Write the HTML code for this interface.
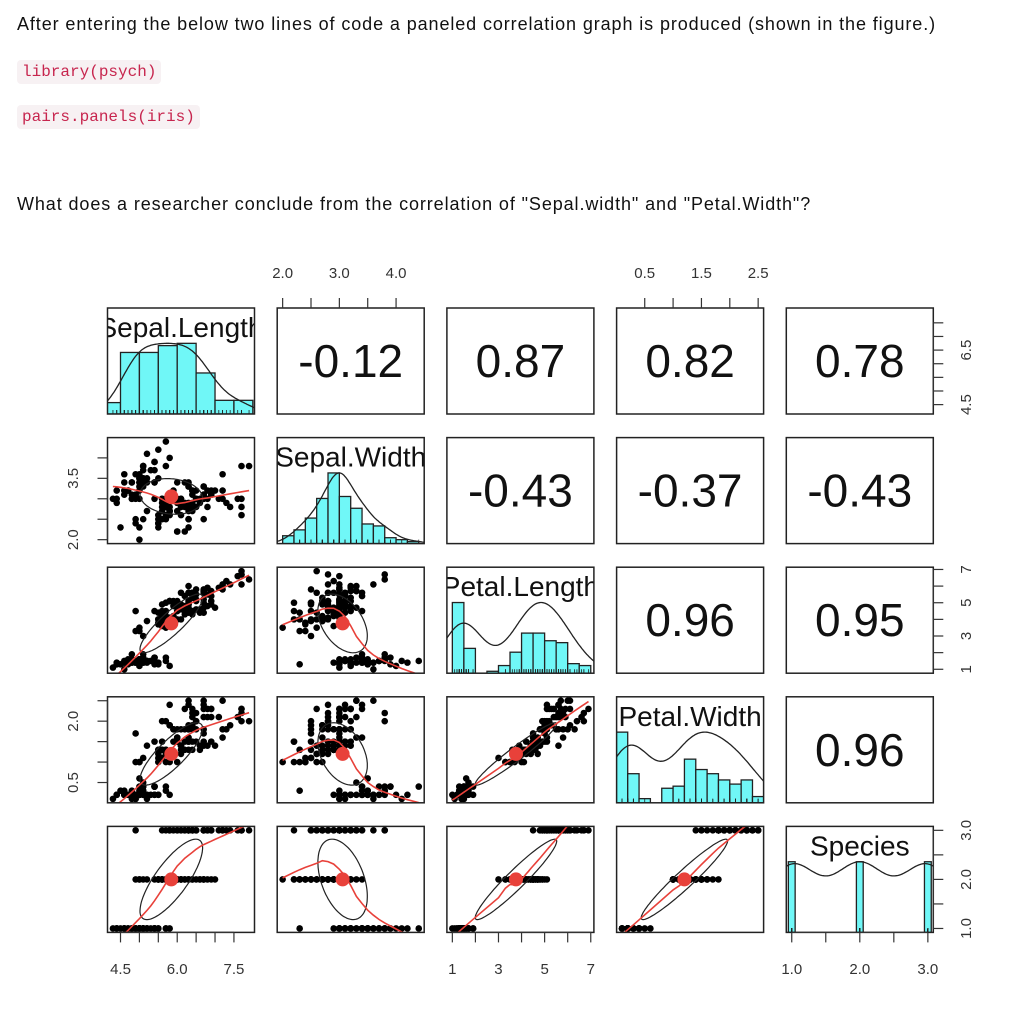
<!DOCTYPE html>
<html><head><meta charset="utf-8">
<style>
body{margin:0;background:#fff;width:1013px;height:1024px;position:relative;overflow:hidden;font-family:"Liberation Sans",Arial,sans-serif;}
.t{position:absolute;font-size:18px;letter-spacing:0.9px;color:#111;white-space:nowrap}
.code{position:absolute;background:#f7f1f3;color:#c7254e;font-family:"Liberation Mono",monospace;font-size:16px;border-radius:4px;padding:0 5px;height:24px;line-height:24px}
svg{position:absolute;left:0;top:0}
</style></head><body>
<div class="t" style="left:17px;top:14px">After entering the below two lines of code a paneled correlation graph is produced (shown in the figure.)</div>
<div class="code" style="left:17px;top:60px">library(psych)</div>
<div class="code" style="left:17px;top:105px">pairs.panels(iris)</div>
<div class="t" style="left:17px;top:194px">What does a researcher conclude from the correlation of "Sepal.width" and "Petal.Width"?</div>
<svg id="chart" width="1013" height="1024"></svg>
<script>
const varNames=["Sepal.Length","Sepal.Width","Petal.Length","Petal.Width","Species"];
const irisRaw="5.1,3.5,1.4,0.2;4.9,3.0,1.4,0.2;4.7,3.2,1.3,0.2;4.6,3.1,1.5,0.2;5.0,3.6,1.4,0.2;5.4,3.9,1.7,0.4;4.6,3.4,1.4,0.3;5.0,3.4,1.5,0.2;4.4,2.9,1.4,0.2;4.9,3.1,1.5,0.1;5.4,3.7,1.5,0.2;4.8,3.4,1.6,0.2;4.8,3.0,1.4,0.1;4.3,3.0,1.1,0.1;5.8,4.0,1.2,0.2;5.7,4.4,1.5,0.4;5.4,3.9,1.3,0.4;5.1,3.5,1.4,0.3;5.7,3.8,1.7,0.3;5.1,3.8,1.5,0.3;5.4,3.4,1.7,0.2;5.1,3.7,1.5,0.4;4.6,3.6,1.0,0.2;5.1,3.3,1.7,0.5;4.8,3.4,1.9,0.2;5.0,3.0,1.6,0.2;5.0,3.4,1.6,0.4;5.2,3.5,1.5,0.2;5.2,3.4,1.4,0.2;4.7,3.2,1.6,0.2;4.8,3.1,1.6,0.2;5.4,3.4,1.5,0.4;5.2,4.1,1.5,0.1;5.5,4.2,1.4,0.2;4.9,3.1,1.5,0.2;5.0,3.2,1.2,0.2;5.5,3.5,1.3,0.2;4.9,3.6,1.4,0.1;4.4,3.0,1.3,0.2;5.1,3.4,1.5,0.2;5.0,3.5,1.3,0.3;4.5,2.3,1.3,0.3;4.4,3.2,1.3,0.2;5.0,3.5,1.6,0.6;5.1,3.8,1.9,0.4;4.8,3.0,1.4,0.3;5.1,3.8,1.6,0.2;4.6,3.2,1.4,0.2;5.3,3.7,1.5,0.2;5.0,3.3,1.4,0.2;"+
"7.0,3.2,4.7,1.4;6.4,3.2,4.5,1.5;6.9,3.1,4.9,1.5;5.5,2.3,4.0,1.3;6.5,2.8,4.6,1.5;5.7,2.8,4.5,1.3;6.3,3.3,4.7,1.6;4.9,2.4,3.3,1.0;6.6,2.9,4.6,1.3;5.2,2.7,3.9,1.4;5.0,2.0,3.5,1.0;5.9,3.0,4.2,1.5;6.0,2.2,4.0,1.0;6.1,2.9,4.7,1.4;5.6,2.9,3.6,1.3;6.7,3.1,4.4,1.4;5.6,3.0,4.5,1.5;5.8,2.7,4.1,1.0;6.2,2.2,4.5,1.5;5.6,2.5,3.9,1.1;5.9,3.2,4.8,1.8;6.1,2.8,4.0,1.3;6.3,2.5,4.9,1.5;6.1,2.8,4.7,1.2;6.4,2.9,4.3,1.3;6.6,3.0,4.4,1.4;6.8,2.8,4.8,1.4;6.7,3.0,5.0,1.7;6.0,2.9,4.5,1.5;5.7,2.6,3.5,1.0;5.5,2.4,3.8,1.1;5.5,2.4,3.7,1.0;5.8,2.7,3.9,1.2;6.0,2.7,5.1,1.6;5.4,3.0,4.5,1.5;6.0,3.4,4.5,1.6;6.7,3.1,4.7,1.5;6.3,2.3,4.4,1.3;5.6,3.0,4.1,1.3;5.5,2.5,4.0,1.3;5.5,2.6,4.4,1.2;6.1,3.0,4.6,1.4;5.8,2.6,4.0,1.2;5.0,2.3,3.3,1.0;5.6,2.7,4.2,1.3;5.7,3.0,4.2,1.2;5.7,2.9,4.2,1.3;6.2,2.9,4.3,1.3;5.1,2.5,3.0,1.1;5.7,2.8,4.1,1.3;"+
"6.3,3.3,6.0,2.5;5.8,2.7,5.1,1.9;7.1,3.0,5.9,2.1;6.3,2.9,5.6,1.8;6.5,3.0,5.8,2.2;7.6,3.0,6.6,2.1;4.9,2.5,4.5,1.7;7.3,2.9,6.3,1.8;6.7,2.5,5.8,1.8;7.2,3.6,6.1,2.5;6.5,3.2,5.1,2.0;6.4,2.7,5.3,1.9;6.8,3.0,5.5,2.1;5.7,2.5,5.0,2.0;5.8,2.8,5.1,2.4;6.4,3.2,5.3,2.3;6.5,3.0,5.5,1.8;7.7,3.8,6.7,2.2;7.7,2.6,6.9,2.3;6.0,2.2,5.0,1.5;6.9,3.2,5.7,2.3;5.6,2.8,4.9,2.0;7.7,2.8,6.7,2.0;6.3,2.7,4.9,1.8;6.7,3.3,5.7,2.1;7.2,3.2,6.0,1.8;6.2,2.8,4.8,1.8;6.1,3.0,4.9,1.8;6.4,2.8,5.6,2.1;7.2,3.0,5.8,1.6;7.4,2.8,6.1,1.9;7.9,3.8,6.4,2.0;6.4,2.8,5.6,2.2;6.3,2.8,5.1,1.5;6.1,2.6,5.6,1.4;7.7,3.0,6.1,2.3;6.3,3.4,5.6,2.4;6.4,3.1,5.5,1.8;6.0,3.0,4.8,1.8;6.9,3.1,5.4,2.1;6.7,3.1,5.6,2.4;6.9,3.1,5.1,2.3;5.8,2.7,5.1,1.9;6.8,3.2,5.9,2.3;6.7,3.3,5.7,2.5;6.7,3.0,5.2,2.3;6.3,2.5,5.0,1.9;6.5,3.0,5.2,2.0;6.2,3.4,5.4,2.3;5.9,3.0,5.1,1.8";
const histBreaks=[[4,4.5,5,5.5,6,6.5,7,7.5,8],[2,2.2,2.4,2.6,2.8,3,3.2,3.4,3.6,3.8,4,4.2,4.4],[1,1.5,2,2.5,3,3.5,4,4.5,5,5.5,6,6.5,7],[0,0.2,0.4,0.6,0.8,1,1.2,1.4,1.6,1.8,2,2.2,2.4,2.6],[0.95,1.05,1.95,2.05,2.95,3.05]];
const topTicks={1:[2,2.5,3,3.5,4],3:[0.5,1,1.5,2,2.5]};
const topLabels={1:["2.0","3.0","4.0"],3:["0.5","1.5","2.5"]};
const bottomTicks={0:[4.5,5,5.5,6,6.5,7,7.5],2:[1,2,3,4,5,6,7],4:[1,1.5,2,2.5,3]};
const bottomLabels={0:["4.5","6.0","7.5"],2:["1","3","5","7"],4:["1.0","2.0","3.0"]};
const leftTicks={1:[2,2.5,3,3.5,4],3:[0.5,1,1.5,2,2.5]};
const leftLabels={1:["2.0","3.5"],3:["0.5","2.0"]};
const rightTicks={0:[4.5,5,5.5,6,6.5,7,7.5],2:[1,2,3,4,5,6,7],4:[1,1.5,2,2.5,3]};
const rightLabels={0:["4.5","6.5"],2:["1","3","5","7"],4:["1.0","2.0","3.0"]};

const rows=irisRaw.split(";").map(r=>r.split(",").map(Number));
const data=[0,1,2,3].map(k=>rows.map(r=>r[k]));
data.push(rows.map((r,i)=>i<50?1:(i<100?2:3)));
const NS="http://www.w3.org/2000/svg";
const svg=document.getElementById("chart");
const PX=[107.5,277.2,446.9,616.6,786.3],PY=[308,437.6,567.2,696.8,826.4],PW=147,PH=106;
const RED="#e8413a",CY="#70f7f7";
function el(t,a,p){const e=document.createElementNS(NS,t);for(const k in a)e.setAttribute(k,a[k]);(p||svg).appendChild(e);return e;}
const rng=data.map(v=>{const mn=Math.min(...v),mx=Math.max(...v),d=(mx-mn)*0.04;return [mn-d,mx+d];});
function sx(c,v){return PX[c]+(v-rng[c][0])/(rng[c][1]-rng[c][0])*PW;}
function sy(r,v){return PY[r]+PH-(v-rng[r][0])/(rng[r][1]-rng[r][0])*PH;}
const mean=v=>v.reduce((a,b)=>a+b,0)/v.length;
const sd=v=>{const m=mean(v);return Math.sqrt(v.reduce((a,b)=>a+(b-m)*(b-m),0)/(v.length-1));};
function cor(a,b){const ma=mean(a),mb=mean(b);let s=0,sa=0,sb=0;for(let i=0;i<a.length;i++){s+=(a[i]-ma)*(b[i]-mb);sa+=(a[i]-ma)**2;sb+=(b[i]-mb)**2;}return s/Math.sqrt(sa*sb);}
function quant(v,p){const s=[...v].sort((a,b)=>a-b);const h=(s.length-1)*p,l=Math.floor(h);return s[l]+(h-l)*((s[Math.min(l+1,s.length-1)])-s[l]);}
function lowess(x,y,f,iter){
  const idx=x.map((_,i)=>i).sort((a,b)=>x[a]-x[b]);const X=idx.map(i=>x[i]),Y=idx.map(i=>y[i]);const n=X.length;
  const ns=Math.max(2,Math.min(n,Math.floor(f*n+1e-7)));let rw=new Array(n).fill(1),ys=new Array(n);
  for(let it=0;it<=iter;it++){
    let nl=0,nr=ns-1;
    for(let i=0;i<n;i++){
      while(nr<n-1&&X[i]-X[nl]>X[nr+1]-X[i]){nl++;nr++;}
      const h=Math.max(X[i]-X[nl],X[nr]-X[i]);let sw=0,w=new Array(n).fill(0);
      for(let j=0;j<n;j++){const r=Math.abs(X[j]-X[i]);let wj=0;if(h>0){if(r<=0.999*h){wj=r<=0.001*h?1:Math.pow(1-Math.pow(r/h,3),3);}}else if(r===0)wj=1;w[j]=wj*rw[j];sw+=w[j];}
      if(sw<=0){ys[i]=Y[i];continue;}
      let a=0;for(let j=0;j<n;j++)a+=w[j]*X[j];a/=sw;let num=0,den=0,my=0;
      for(let j=0;j<n;j++){my+=w[j]*Y[j];den+=w[j]*(X[j]-a)**2;num+=w[j]*(X[j]-a)*Y[j];}my/=sw;
      const range=X[n-1]-X[0];ys[i]=(Math.sqrt(den/sw)>0.001*range)?my+num/den*(X[i]-a):my;
    }
    if(it===iter)break;
    const res=Y.map((v,i)=>Math.abs(v-ys[i]));const s=[...res].sort((a,b)=>a-b);const med=(s[Math.floor((n-1)/2)]+s[Math.ceil((n-1)/2)])/2;const cm=6*med;
    if(cm<1e-12)break;rw=res.map(r=>r<0.001*cm?1:(r>0.999*cm?0:(1-(r/cm)**2)**2));
  }
  return X.map((v,i)=>[v,ys[i]]);
}
function clip(c,r){const id="cp"+c+"_"+r;const cp=el("clipPath",{id:id});el("rect",{x:PX[c],y:PY[r],width:PW,height:PH},cp);return "url(#"+id+")";}
const defs=el("defs",{});
for(let r=0;r<5;r++)for(let c=0;c<5;c++){
  const g=el("g",{"clip-path":clip(c,r)});
  
  
  if(r===c){
    const v=data[c],br=histBreaks[c];const counts=new Array(br.length-1).fill(0);
    v.forEach(x=>{for(let k=0;k<br.length-1;k++){if((x>br[k]||(k===0&&x>=br[k]))&&x<=br[k+1]){counts[k]++;break;}}});
    const mx=Math.max(...counts);const yb=PY[r]+PH,hs=PH/1.5;
    counts.forEach((n,k)=>{if(!n&&c===4)return;const b=el("rect",{x:sx(c,br[k]),y:yb-n/mx*hs,width:sx(c,br[k+1])-sx(c,br[k]),height:n/mx*hs,fill:CY,stroke:"#222","stroke-width":1.3},g);
      
      });
    v.forEach(x=>el("line",{x1:sx(c,x),x2:sx(c,x),y1:yb,y2:yb-4,stroke:"#222","stroke-width":0.8},g));
    const q=(quant(v,0.75)-quant(v,0.25))/1.34;const bw=1.2*1.06*Math.min(sd(v),q)*Math.pow(v.length,-0.2);
    const lo=Math.min(...v)-3*bw,hi=Math.max(...v)+3*bw;const pts=[];let dm=0;
    for(let k=0;k<=200;k++){const x=lo+(hi-lo)*k/200;let d=0;v.forEach(z=>{d+=Math.exp(-0.5*((x-z)/bw)**2);});pts.push([x,d]);dm=Math.max(dm,d);}
    const dl=el("polyline",{points:pts.map(p=>sx(c,p[0]).toFixed(1)+","+(yb-p[1]/dm*hs).toFixed(1)).join(" "),fill:"none",stroke:"#222","stroke-width":1.3},g);
    
    
    const t=el("text",{x:PX[c]+PW/2,y:PY[r]+29,"text-anchor":"middle","font-size":28,fill:"#111"},g);t.textContent=varNames[c];
    
    
  }else if(c>r){
    const t=el("text",{x:PX[c]+PW/2,y:PY[r]+PH/2+16,"text-anchor":"middle","font-size":46,fill:"#111"},g);t.textContent=cor(data[r],data[c]).toFixed(2);
    
    
  }else{
    const xv=data[c],yv=data[r];
    xv.forEach((x,i)=>{const p=el("circle",{cx:sx(c,x),cy:sy(r,yv[i]),r:3.3,fill:"#000"},g);
      
      });
    const xm=mean(xv),ym=mean(yv),xs=sd(xv),ys=sd(yv),rr=cor(xv,yv);const th=Math.sign(rr)/Math.SQRT2;const a=Math.sqrt(1+rr),b=Math.sqrt(1-rr);
    const ep=[];for(let k=0;k<=101;k++){const an=k*2*Math.PI/101,cx=Math.cos(an),cy=Math.sin(an);const ex=cx*a*th+cy*b*(-th),ey=cx*a*th+cy*b*th;ep.push(sx(c,xm+ex*xs).toFixed(1)+","+sy(r,ym+ey*ys).toFixed(1));}
    const e=el("polyline",{points:ep.join(" "),fill:"none",stroke:"#222","stroke-width":1.2},g);
    
    
    const lw=lowess(xv,yv,2/3,3);
    const ln=el("polyline",{points:lw.map(p=>sx(c,p[0]).toFixed(1)+","+sy(r,p[1]).toFixed(1)).join(" "),fill:"none",stroke:RED,"stroke-width":1.6},g);
    
    
    const m=el("circle",{cx:sx(c,xm),cy:sy(r,ym),r:7,fill:RED},g);
    
    
  }
  const bx=el("rect",{x:PX[c],y:PY[r],width:PW,height:PH,fill:"none",stroke:"#222","stroke-width":1.5});
  
  
}
const AX="#333",TL=10;
function tick(x1,y1,x2,y2){el("line",{x1,y1,x2,y2,stroke:AX,"stroke-width":1.2});}
function lab(x,y,s,rot){const t=el("text",{x,y,"text-anchor":"middle","font-size":15,fill:AX});if(rot)t.setAttribute("transform","rotate(-90 "+x+" "+y+")");t.textContent=s;
  
  }
for(const c in topTicks){const tk=topTicks[c];tick(sx(c,tk[0]),PY[0],sx(c,tk[tk.length-1]),PY[0]);tk.forEach(v=>tick(sx(c,v),PY[0],sx(c,v),PY[0]-TL));topLabels[c].forEach(s=>lab(sx(c,+s),278,s));}
for(const c in bottomTicks){const tk=bottomTicks[c],yb=PY[4]+PH;tick(sx(c,tk[0]),yb,sx(c,tk[tk.length-1]),yb);tk.forEach(v=>tick(sx(c,v),yb,sx(c,v),yb+TL));bottomLabels[c].forEach(s=>lab(sx(c,+s),974,s));}
for(const r in leftTicks){const tk=leftTicks[r];tick(PX[0],sy(r,tk[0]),PX[0],sy(r,tk[tk.length-1]));tk.forEach(v=>tick(PX[0],sy(r,v),PX[0]-TL,sy(r,v)));leftLabels[r].forEach(s=>lab(78,sy(r,+s),s,true));}
for(const r in rightTicks){const tk=rightTicks[r],xr=PX[4]+PW;tick(xr,sy(r,tk[0]),xr,sy(r,tk[tk.length-1]));tk.forEach(v=>tick(xr,sy(r,v),xr+TL,sy(r,v)));rightLabels[r].forEach(s=>lab(971,sy(r,+s),s,true));}
</script>
</body></html>
